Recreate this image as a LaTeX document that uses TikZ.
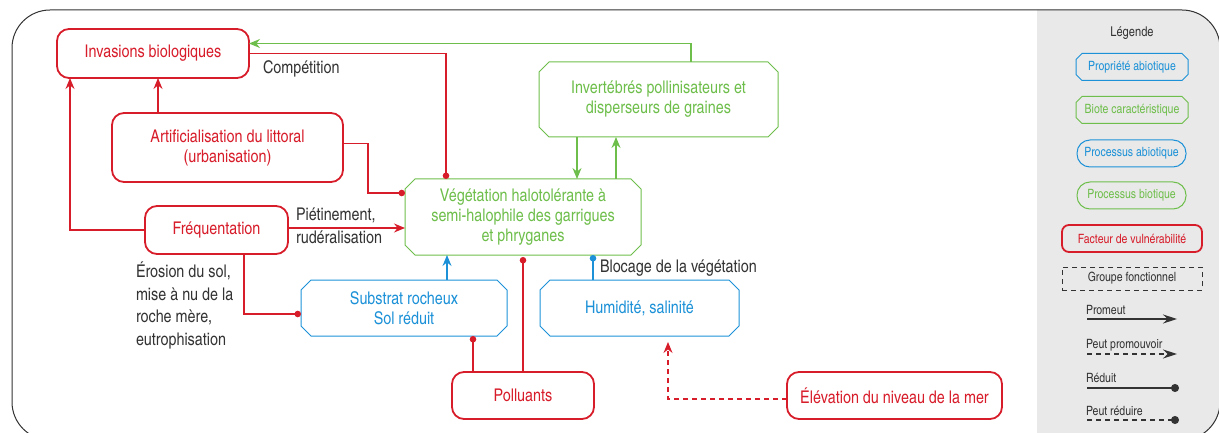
\documentclass[tikz,border=0pt]{standalone}
\usepackage{fontspec}
\setmainfont{TeX Gyre Heros Cn}
\usetikzlibrary{shapes.misc,arrows.meta}
\definecolor{cred}{RGB}{215,28,42}
\definecolor{cgreen}{RGB}{110,190,75}
\definecolor{cblue}{RGB}{28,145,215}
\definecolor{cdark}{RGB}{51,51,51}
\definecolor{cgray}{RGB}{233,233,233}
\begin{document}
\begin{tikzpicture}[x=1pt,y=-1pt,
 every node/.style={inner sep=0pt, outer sep=0pt},
 mainfont/.style={font=\fontsize{17.5}{20}\selectfont},
 legfont/.style={font=\fontsize{12.8}{14}\selectfont},
 redbox/.style={draw=cred, line width=1.8pt, rounded corners=12pt, text=cred, mainfont, align=center},
 octo/.style={chamfered rectangle, chamfered rectangle xsep=5pt, chamfered rectangle ysep=5pt, line width=1pt, mainfont, align=center},
 greenoct/.style={octo, draw=cgreen, text=cgreen},
 blueoct/.style={octo, draw=cblue, text=cblue},
 lab/.style={text=cdark, font=\fontsize{17.5}{22.6}\selectfont, align=left},
 tipA/.style={-{Stealth[length=11pt,width=9pt]}},
 tipD/.style={-{Circle[length=6.5pt]}},
 rarr/.style={draw=cred, line width=1.3pt, tipA},
 rred/.style={draw=cred, line width=1.3pt, tipD},
 garr/.style={draw=cgreen, line width=1.3pt, tipA},
 barr/.style={draw=cblue, line width=1.3pt, tipA},
 bred/.style={draw=cblue, line width=1.3pt, tipD},
 dashpat/.style={dash pattern=on 5pt off 4pt},
 legarr/.style={draw=cdark, line width=1.1pt, -{Stealth[length=14pt,width=9pt]}},
 legred/.style={draw=cdark, line width=1.1pt, -{Circle[length=8pt]}},
]
\useasboundingbox (0,0) rectangle (1219,433);
% frame and legend panel
\begin{scope}
\clip[rounded corners=38pt] (12,10) rectangle (1220,440);
\fill[cgray] (1037,0) rectangle (1230,450);
\end{scope}
\draw[cdark, line width=1pt, rounded corners=38pt] (12,10) rectangle (1220,440);

% main nodes
\node[redbox, minimum width=192pt, minimum height=49pt] (inv) at (153,53.5) {Invasions biologiques};
\node[redbox, minimum width=231pt, minimum height=69pt] (art) at (227.5,147.5) {Artificialisation du littoral\\(urbanisation)};
\node[redbox, minimum width=143pt, minimum height=48pt] (freq) at (216.5,230) {Fréquentation};
\node[greenoct, minimum width=236pt, minimum height=76pt] (veg) at (523,217) {Végétation halotolérante à\\semi-halophile des garrigues\\et phryganes};
\node[greenoct, minimum width=239pt, minimum height=75pt] (inver) at (658.5,99.5) {Invertébrés pollinisateurs et\\disperseurs de graines};
\node[blueoct, minimum width=206pt, minimum height=56pt] (sub) at (404,308) {Substrat rocheux\\Sol réduit};
\node[blueoct, minimum width=199pt, minimum height=56pt] (hum) at (639.5,308) {Humidité, salinité};
\node[redbox, minimum width=142pt, minimum height=47pt] (pol) at (523,395.5) {Polluants};
\node[redbox, minimum width=215pt, minimum height=47pt] (ele) at (894.5,395.5) {Élévation du niveau de la mer};

% labels
\node[lab, anchor=west] (lcomp) at (263,69) {Compétition};
\node[lab, anchor=west] (lpiet) at (296,226) {Piétinement,\\rudéralisation};
\node[lab, anchor=north west] (lero) at (136,262) {Érosion du sol,\\mise à nu de la\\roche mère,\\eutrophisation};
\node[lab, anchor=west] (lbloc) at (600,268) {Blocage de la végétation};

% connectors
\draw[garr] ([xshift=32.5pt]inver.north) |- ([yshift=10pt]inv.east);
\draw[rred] (inv.east) -| ([xshift=-77pt]veg.north);
\draw[rarr] ([xshift=-69.5pt]art.north) -- ([xshift=-69.5pt]art.north |- inv.south);
\draw[rred] ([yshift=4pt]art.east) -- ++(25,0) |- ([yshift=24pt]veg.west);
\draw[rarr] (freq.west) -| ([xshift=-83pt]inv.south);
\draw[rarr] ([yshift=2pt]freq.east) -- ([yshift=2pt]freq.east -| veg.west);
\draw[rred] ([xshift=27.5pt]freq.south) |- ([yshift=-6pt]sub.west);
\draw[barr] ([xshift=43pt]sub.north) -- ([xshift=43pt]sub.north |- veg.south);
\draw[rred] ([xshift=-50pt]pol.north) -- ([xshift=-50pt]pol.north |- sub.south);
\draw[rred, shorten >=2pt] (pol.north) -- (pol.north |- veg.south);
\draw[bred] ([xshift=-46.5pt]hum.north) -- ([xshift=-46.5pt]hum.north |- veg.south);
\draw[rarr, dashpat, shorten >=6pt] ([yshift=-3.5pt]ele.west) -| ([xshift=28.5pt]hum.south);
\draw[garr] ([xshift=-81.5pt]inver.south) -- ([xshift=-81.5pt]inver.south |- veg.north);
\draw[garr] ([xshift=93pt]veg.north) -- ([xshift=93pt]veg.north |- inver.south);

% legend
\node[legfont, text=cdark, font=\fontsize{13.5}{15}\selectfont] (leg) at (1132,33) {Légende};
\node[octo, legfont, chamfered rectangle xsep=3pt, chamfered rectangle ysep=3pt, draw=cblue, text=cblue, minimum width=112pt, minimum height=27pt] (lpa) at (1132,67) {Propriété abiotique};
\node[octo, legfont, chamfered rectangle xsep=3pt, chamfered rectangle ysep=3pt, draw=cgreen, text=cgreen, minimum width=112pt, minimum height=27pt] (lbc) at (1132,110) {Biote caractéristique};
\node[legfont, draw=cblue, text=cblue, line width=1pt, rounded corners=13pt, minimum width=109pt, minimum height=27pt] (lpab) at (1131.5,153.5) {Processus abiotique};
\node[legfont, draw=cgreen, text=cgreen, line width=1pt, rounded corners=13pt, minimum width=109pt, minimum height=27pt] (lpb) at (1131.5,195.5) {Processus biotique};
\node[legfont, draw=cred, text=cred, line width=1.8pt, rounded corners=7pt, minimum width=140pt, minimum height=27pt] (lfv) at (1132,238.5) {Facteur de vulnérabilité};
\node[legfont, draw=cdark, text=cdark, line width=1pt, dashpat, minimum width=140pt, minimum height=23pt] (lgf) at (1132,278.5) {Groupe fonctionnel};

\node[legfont, text=cdark, anchor=west] (tpm) at (1086,310) {Promeut};
\coordinate (pm1) at (1087,319); \coordinate (pm2) at (1177,319);
\draw[legarr] (pm1) -- (pm2);
\node[legfont, text=cdark, anchor=west] (tpp) at (1086,345) {Peut promouvoir};
\coordinate (pp1) at (1087,354); \coordinate (pp2) at (1177,354);
\draw[legarr, dashpat] (pp1) -- (pp2);
\node[legfont, text=cdark, anchor=west] (tre) at (1086,378) {Réduit};
\coordinate (re1) at (1087,388); \coordinate (re2) at (1179,388);
\draw[legred] (re1) -- (re2);
\node[legfont, text=cdark, anchor=west] (tpr) at (1086,411) {Peut réduire};
\coordinate (pr1) at (1087,420); \coordinate (pr2) at (1179,420);
\draw[legred, dashpat] (pr1) -- (pr2);
\end{tikzpicture}
\end{document}
